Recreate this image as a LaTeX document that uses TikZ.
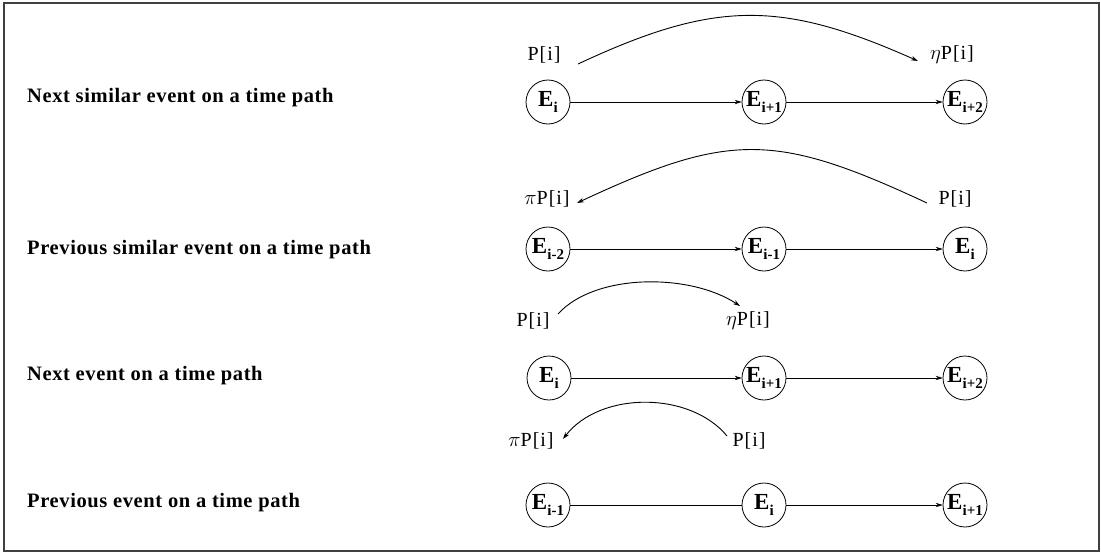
\documentclass[tikz,border=0pt]{standalone}
\usepackage{fontspec}
\setmainfont{Liberation Serif}
\newfontfamily\rowfont[LetterSpace=3]{Liberation Serif}
\newfontfamily\pfont[LetterSpace=5]{Liberation Serif}
\usetikzlibrary{arrows.meta}
\newcommand\evlabel[1]{E\kern0.3pt\raisebox{-0.3em}{\fontsize{15}{15}\selectfont\bfseries #1}}
\begin{document}
\begin{tikzpicture}[x=1pt,y=-1pt,
  ev/.style={circle,draw,line width=0.8pt,minimum size=44pt,inner sep=0pt,font=\fontsize{23}{24}\selectfont\bfseries},
  rowlabel/.style={anchor=west,inner sep=0pt,font=\rowfont\fontsize{20.5}{24}\selectfont\bfseries},
  plabel/.style={inner sep=0pt,font=\pfont\fontsize{20}{22}\selectfont},
  arr/.style={line width=0.8pt,-{Stealth[length=7pt,width=4.5pt]}},
  plain/.style={line width=0.8pt},
  curvearrow/.style={line width=0.9pt,-{Stealth[length=7pt,width=4.5pt]}}]
\useasboundingbox (0,0) rectangle (1101,554);
\draw[line width=1.5pt,black!75] (4,3) rectangle (1099,551);

% Row labels
\node[rowlabel] (t1) at (27,98) {Next similar event on a time path};
\node[rowlabel] (t2) at (27,250) {Previous similar event on a time path};
\node[rowlabel] (t3) at (27,376) {Next event on a time path};
\node[rowlabel] (t4) at (27,503) {Previous event on a time path};

% Row 1
\node[ev] (a1) at (548,102) {\evlabel{i}};
\node[ev] (a2) at (764,102) {\evlabel{i+1}};
\node[ev] (a3) at (965,102) {\evlabel{i+2}};
\draw[arr] (a1) -- (a2);
\draw[arr] (a2) -- (a3);
\node[plabel] (p1) at (544,55) {P[i]};
\node[plabel] (q1) at (952,55) {$\eta$P[i]};
\coordinate (p1s) at (578,64);
\coordinate (q1e) at (918,61);
\draw[curvearrow] (p1s) .. controls (715,0) and (781,0) .. (q1e);

% Row 2
\node[ev] (b1) at (548,249) {\evlabel{i-2}};
\node[ev] (b2) at (764,249) {\evlabel{i-1}};
\node[ev] (b3) at (965,249) {\evlabel{i}};
\draw[arr] (b1) -- (b2);
\draw[arr] (b2) -- (b3);
\node[plabel] (q2) at (547,199) {$\pi$P[i]};
\node[plabel] (p2) at (955,199) {P[i]};
\coordinate (p2s) at (927,203);
\coordinate (q2e) at (577,203);
\draw[curvearrow] (p2s) .. controls (775,132) and (729,132) .. (q2e);

% Row 3
\node[ev] (c1) at (549,378) {\evlabel{i}};
\node[ev] (c2) at (764,378) {\evlabel{i+1}};
\node[ev] (c3) at (965,378) {\evlabel{i+2}};
\draw[arr] (c1) -- (c2);
\draw[arr] (c2) -- (c3);
\node[plabel] (p3) at (533,321) {P[i]};
\node[plabel] (q3) at (748,321) {$\eta$P[i]};
\coordinate (p3s) at (558,314);
\coordinate (q3e) at (740,306);
\draw[curvearrow] (p3s) .. controls (595,273) and (690,273) .. (q3e);

% Row 4
\node[ev] (d1) at (548,505) {\evlabel{i-1}};
\node[ev] (d2) at (764,505) {\evlabel{i}};
\node[ev] (d3) at (965,505) {\evlabel{i+1}};
\draw[plain] (d1) -- (d2);
\draw[arr] (d2) -- (d3);
\node[plabel] (q4) at (531,441) {$\pi$P[i]};
\node[plabel] (p4) at (749,441) {P[i]};
\coordinate (p4s) at (727,436);
\coordinate (q4e) at (563,439);
\draw[curvearrow] (p4s) .. controls (690,391) and (600,391) .. (q4e);
\end{tikzpicture}
\end{document}
